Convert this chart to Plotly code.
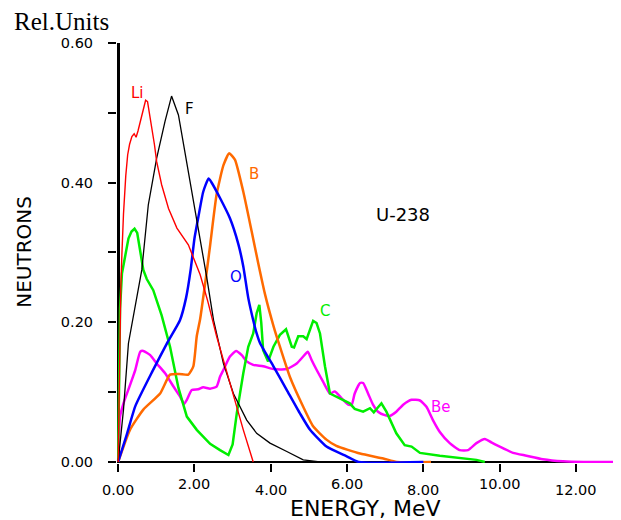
import plotly.graph_objects as go

# ---------------- data ----------------
li_e = [0, 0.02, 0.04, 0.07, 0.10, 0.14, 0.20, 0.25, 0.30, 0.36, 0.42, 0.47, 0.52, 0.58, 0.65, 0.72, 0.77, 0.82, 0.88, 0.95, 1.01, 1.14, 1.32, 1.54, 1.84, 2.02, 2.15, 2.35, 2.58, 2.80, 3.02, 3.28, 3.54]
li_y = [0, 0.08, 0.15, 0.25, 0.30, 0.355, 0.41, 0.44, 0.455, 0.466, 0.470, 0.465, 0.474, 0.488, 0.505, 0.518, 0.516, 0.500, 0.478, 0.455, 0.430, 0.397, 0.363, 0.335, 0.311, 0.287, 0.268, 0.230, 0.180, 0.138, 0.094, 0.046, 0.0]

f_e = [0, 0.14, 0.27, 0.40, 0.53, 0.62, 0.79, 1.01, 1.23, 1.40, 1.58, 1.75, 1.97, 2.15, 2.32, 2.50, 2.76, 3.02, 3.37, 3.63, 3.98, 4.42, 4.85, 5.29]
f_y = [0, 0.075, 0.170, 0.208, 0.246, 0.275, 0.368, 0.435, 0.488, 0.524, 0.497, 0.445, 0.373, 0.320, 0.265, 0.203, 0.141, 0.098, 0.060, 0.041, 0.027, 0.015, 0.003, 0.0]

b_e = [0, 0.31, 0.66, 1.10, 1.36, 1.60, 1.84, 1.97, 2.06, 2.15, 2.32, 2.41, 2.58, 2.76, 2.91, 3.06, 3.28, 3.50, 3.67, 3.85, 4.07, 4.24, 4.50, 4.85, 5.11, 5.46, 5.72, 6.34, 6.95, 7.30, 8.20]
b_y = [0, 0.046, 0.075, 0.098, 0.125, 0.126, 0.125, 0.137, 0.180, 0.205, 0.272, 0.310, 0.383, 0.425, 0.442, 0.433, 0.387, 0.330, 0.285, 0.240, 0.195, 0.165, 0.122, 0.079, 0.051, 0.032, 0.023, 0.012, 0.005, 0.0, 0.0]

o_e = [0, 0.23, 0.45, 0.90, 1.30, 1.62, 1.78, 1.90, 2.00, 2.10, 2.23, 2.37, 2.44, 2.67, 2.93, 3.15, 3.28, 3.41, 3.54, 3.63, 3.72, 4.07, 4.42, 4.76, 5.03, 5.46, 5.99, 6.30, 8.00]
o_y = [0, 0.040, 0.080, 0.130, 0.172, 0.203, 0.235, 0.275, 0.320, 0.350, 0.387, 0.406, 0.401, 0.378, 0.349, 0.312, 0.280, 0.235, 0.203, 0.184, 0.170, 0.137, 0.103, 0.070, 0.046, 0.022, 0.008, 0.0, 0.0]

c_e = [0, 0.02, 0.05, 0.10, 0.18, 0.27, 0.35, 0.43, 0.50, 0.58, 0.66, 0.75, 0.92, 1.14, 1.36, 1.58, 1.80, 2.06, 2.41, 2.67, 2.89, 3.00, 3.11, 3.28, 3.41, 3.54, 3.63, 3.70, 3.75, 3.80, 3.93, 4.07, 4.24, 4.40, 4.55, 4.61, 4.72, 4.85, 4.94, 5.11, 5.20, 5.29, 5.42, 5.55, 5.81, 6.07, 6.20, 6.42, 6.60, 6.70, 6.90, 7.03, 7.29, 7.51, 7.69, 7.91, 8.43, 8.95, 9.39, 9.61]
c_y = [0, 0.10, 0.22, 0.27, 0.295, 0.320, 0.330, 0.334, 0.328, 0.300, 0.275, 0.262, 0.246, 0.210, 0.165, 0.106, 0.065, 0.046, 0.026, 0.017, 0.010, 0.025, 0.070, 0.127, 0.165, 0.184, 0.213, 0.225, 0.200, 0.160, 0.144, 0.165, 0.182, 0.190, 0.165, 0.164, 0.180, 0.180, 0.176, 0.202, 0.199, 0.184, 0.137, 0.098, 0.091, 0.084, 0.076, 0.072, 0.077, 0.071, 0.084, 0.072, 0.041, 0.024, 0.022, 0.013, 0.009, 0.006, 0.003, 0.0]

be_e = [0, 0.05, 0.14, 0.31, 0.45, 0.58, 0.66, 0.84, 1.01, 1.23, 1.45, 1.62, 1.73, 1.80, 1.93, 2.10, 2.23, 2.41, 2.58, 2.67, 2.76, 2.93, 3.09, 3.24, 3.37, 3.54, 3.80, 4.07, 4.42, 4.68, 4.85, 4.97, 5.07, 5.20, 5.37, 5.55, 5.68, 5.86, 6.03, 6.12, 6.20, 6.34, 6.42, 6.55, 6.68, 6.81, 6.99, 7.12, 7.29, 7.47, 7.69, 7.91, 8.08, 8.25, 8.43, 8.69, 8.95, 9.17, 9.39, 9.61, 9.78, 10.00, 10.35, 10.70, 11.13, 11.66, 12.20, 13.10]
be_y = [0, 0.065, 0.084, 0.110, 0.132, 0.158, 0.159, 0.153, 0.141, 0.127, 0.108, 0.094, 0.083, 0.089, 0.103, 0.104, 0.107, 0.105, 0.108, 0.122, 0.132, 0.151, 0.159, 0.153, 0.144, 0.139, 0.137, 0.133, 0.133, 0.141, 0.151, 0.158, 0.146, 0.132, 0.115, 0.098, 0.101, 0.091, 0.082, 0.082, 0.098, 0.113, 0.113, 0.098, 0.082, 0.072, 0.067, 0.066, 0.072, 0.082, 0.089, 0.088, 0.079, 0.060, 0.043, 0.027, 0.017, 0.017, 0.027, 0.033, 0.028, 0.022, 0.013, 0.009, 0.004, 0.001, 0.0, 0.0]

x_tick_vals = [0, 2, 4, 6, 8, 10, 12]
x_tick_text = ["0.00", "2.00", "4.00", "6.00", "8.00", "10.00", "12.00"]
y_tick_vals = [0, 0.1, 0.2, 0.3, 0.4, 0.5, 0.6]
y_tick_text = ["0.00", "", "0.20", "", "0.40", "", "0.60"]

curve_labels = ["Li", "F", "B", "O", "C", "Be", "U-238"]
label_x = [0.50, 1.86, 3.56, 3.09, 5.42, 8.47, 7.46]
label_y = [0.529, 0.506, 0.413, 0.265, 0.216, 0.079, 0.354]

# ---------------- figure ----------------
FONT = "DejaVu Sans"
fig = go.Figure()

series = [
    (be_e, be_y, "#FF00FF", 2.5, "spline"),
    (c_e, c_y, "#00EE00", 2.5, "linear"),
    (b_e, b_y, "#FF6A00", 2.5, "spline"),
    (o_e, o_y, "#0000FF", 2.5, "spline"),
    (f_e, f_y, "#000000", 1.3, "linear"),
    (li_e, li_y, "#FF0000", 1.4, "linear"),
]
for xs, ys, col, w, shp in series:
    line = dict(color=col, width=w, shape=shp)
    if shp == "spline":
        line["smoothing"] = 0.5
    fig.add_trace(go.Scatter(x=xs, y=ys, mode="lines", line=line,
                             showlegend=False, hoverinfo="skip"))

label_colors = ["#FF0000", "#000000", "#FF6A00", "#0000FF", "#00EE00", "#FF00FF", "#000000"]
label_sizes = [15, 15, 15, 15, 15, 15, 18]
for t, x, y, c, s in zip(curve_labels, label_x, label_y, label_colors, label_sizes):
    fig.add_annotation(x=x, y=y, xref="x", yref="y", text=t, showarrow=False,
                       font=dict(family=FONT, size=s, color=c),
                       xanchor="center", yanchor="middle")

# x tick labels (alternating vertical offset as in the original)
for i, (v, t) in enumerate(zip(x_tick_vals, x_tick_text)):
    fig.add_annotation(x=v, y=0, xref="x", yref="y", text=t, showarrow=False,
                       font=dict(family=FONT, size=14.5, color="black"),
                       xanchor="center", yanchor="middle",
                       yshift=-28 if i % 2 == 0 else -22)

# page has an 8px body margin: figure is drawn 8px in from the window edge
OFF = 8
W, H = 621 - OFF, 520 - OFF
L, R, T, B = 116.85 - OFF, 2.6, 43.0 - OFF, 56.95
pw, ph = W - L - R, H - T - B


def px2paper(px, py):
    return (px - OFF - L) / pw, 1 - (py - OFF - T) / ph


ax, ay = px2paper(12, 21.5)
fig.add_annotation(x=ax, y=ay, xref="paper", yref="paper", text="Rel.Units",
                   showarrow=False, font=dict(family="Liberation Serif", size=25, color="black"),
                   xanchor="left", yanchor="middle")
nx, ny = px2paper(24, 251.5)
fig.add_annotation(x=nx, y=ny, xref="paper", yref="paper", text="NEUTRONS",
                   showarrow=False, textangle=-90,
                   font=dict(family=FONT, size=20, color="black"),
                   xanchor="center", yanchor="middle")
ex, ey = px2paper(366, 508.5)
fig.add_annotation(x=ex, y=ey, xref="paper", yref="paper", text="ENERGY, MeV",
                   showarrow=False, font=dict(family=FONT, size=22, color="black"),
                   xanchor="center", yanchor="middle")

fig.update_layout(
    width=W, height=H,
    margin=dict(l=L, r=R, t=T, b=B, autoexpand=False),
    paper_bgcolor="white", plot_bgcolor="white",
    xaxis=dict(range=[-0.03, 13.1], showgrid=False, showline=False,
               zeroline=True, zerolinecolor="black", zerolinewidth=2.5,
               tickvals=x_tick_vals, showticklabels=False,
               ticks="outside", ticklen=8, tickwidth=2, tickcolor="black"),
    yaxis=dict(range=[-0.0015, 0.6], showgrid=False, showline=False,
               zeroline=True, zerolinecolor="black", zerolinewidth=2,
               tickvals=y_tick_vals, ticktext=y_tick_text,
               ticks="outside", ticklen=8, tickwidth=2, tickcolor="black",
               ticklabelstandoff=12,
               tickfont=dict(family=FONT, size=14.5, color="black")),
)

fig.write_html("out.html")
